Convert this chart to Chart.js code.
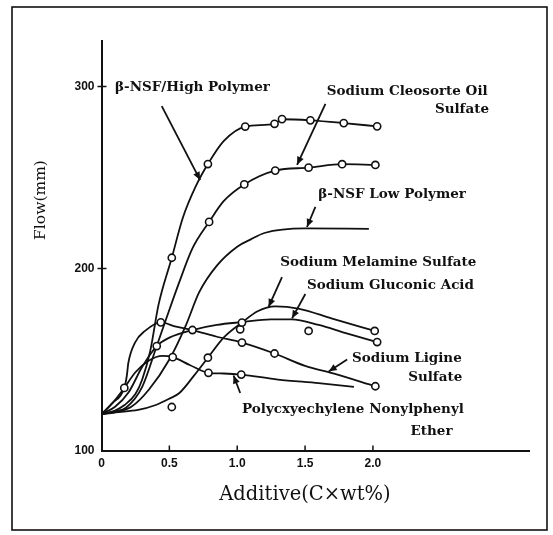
<!DOCTYPE html>
<html><head><meta charset="utf-8">
<script src="https://cdn.jsdelivr.net/npm/chart.js@4.4.1/dist/chart.umd.min.js"></script>
<style>html,body{margin:0;padding:0;background:#fff}#wrap{width:553px;height:535px}</style>
</head><body><div id="wrap"><canvas id="c" width="553" height="535"></canvas></div>
<script>
// ---------- axis ticks ----------
const xTickValues = [0, 0.5, 1, 1.5, 2];
const xTickLabels = ['0', '0.5', '1.0', '1.5', '2.0'];
const yTickValues = [100, 200, 300];
const yTickLabels = ['100', '200', '300'];

// ---------- series names ----------
const seriesNames = ['β-NSF High Polymer', 'Sodium Cleosorte Oil Sulfate', 'β-NSF Low Polymer',
  'Sodium Melamine Sulfate', 'Sodium Gluconic Acid', 'Sodium Ligine Sulfate', 'Polycxyechylene Nonylphenyl Ether'];

// ---------- drawn curves ----------
const highPolymerCurveX = [0, 0.1, 0.17, 0.25, 0.3, 0.36, 0.42, 0.518, 0.6, 0.7, 0.784, 0.9, 1.059, 1.275, 1.33, 1.539, 1.785, 2.031];
const highPolymerCurveY = [120, 122, 125, 131, 139, 155, 180, 205.9, 228, 246, 257.4, 270, 278, 279.5, 282, 281.4, 279.9, 278.1];
const cleosorteCurveX = [0, 0.1, 0.18, 0.3, 0.407, 0.475, 0.573, 0.67, 0.793, 0.9, 1.052, 1.28, 1.526, 1.773, 2.018];
const cleosorteCurveY = [120, 121.5, 123.5, 135, 157.4, 172, 192.5, 211, 225.6, 237, 246.2, 253.8, 255.4, 257.3, 256.9];
const lowPolymerCurveX = [0, 0.1, 0.22, 0.35, 0.5, 0.62, 0.72, 0.85, 1.0, 1.1, 1.2, 1.5, 1.97];
const lowPolymerCurveY = [120, 121, 124, 133.5, 150, 168.5, 187, 201.6, 212, 216, 219.5, 222, 221.8];
const melamineCurveX = [0, 0.1, 0.27, 0.4, 0.5, 0.574, 0.68, 0.784, 0.9, 1.035, 1.15, 1.28, 1.45, 1.7, 2.013];
const melamineCurveY = [120, 121, 122.3, 125, 128.5, 131.6, 141, 151, 162, 170.3, 176.5, 179.2, 178, 172.5, 165.7];
const gluconicCurveX = [0, 0.1, 0.2, 0.3, 0.407, 0.5, 0.67, 0.85, 1.03, 1.25, 1.4, 1.6, 1.8, 2.031];
const gluconicCurveY = [120, 124, 132, 146, 157.4, 162, 166.2, 169, 170.5, 172, 172, 169, 164.5, 159.6];
const ligineCurveX = [0, 0.08, 0.168, 0.186, 0.198, 0.247, 0.321, 0.437, 0.55, 0.67, 0.85, 1.035, 1.275, 1.5, 1.7, 2.018];
const ligineCurveY = [120, 126, 134.4, 140.8, 148.2, 159.3, 165.7, 170.4, 168, 166.2, 162.5, 159.3, 153.3, 146.5, 142.5, 135.3];
const polyCurveX = [0, 0.08, 0.168, 0.25, 0.35, 0.45, 0.525, 0.65, 0.788, 0.9, 1.03, 1.3, 1.6, 1.86];
const polyCurveY = [120, 126, 134.4, 143, 149.5, 152, 151.3, 147, 142.7, 142.3, 141.7, 139, 137, 135];

// ---------- measured points (open circles) ----------
const highPolymerPtsX = [0.518, 0.784, 1.059, 1.275, 1.33, 1.539, 1.785, 2.031];
const highPolymerPtsY = [205.9, 257.4, 278, 279.5, 282.1, 281.4, 279.9, 278.1];
const cleosortePtsX = [0.793, 1.052, 1.28, 1.526, 1.773, 2.018];
const cleosortePtsY = [225.6, 246.2, 253.8, 255.4, 257.3, 256.9];
const melaminePtsX = [0.784, 1.035, 2.013];
const melaminePtsY = [151, 170.3, 165.7];
const gluconicPtsX = [0.407, 0.67, 2.031];
const gluconicPtsY = [157.4, 166.2, 159.6];
const liginePtsX = [0.168, 0.437, 1.035, 1.275, 2.018];
const liginePtsY = [134.4, 170.4, 159.3, 153.3, 135.3];
const polyPtsX = [0.525, 0.788, 1.03];
const polyPtsY = [151.3, 142.7, 141.7];
const strayPtsX = [0.518, 1.022, 1.526];
const strayPtsY = [123.9, 166.6, 165.7];

// ---------- labels & arrows (data coordinates) ----------
const notes = [
  {lines: ['β-NSF/High Polymer'], x: 0.10, y: 299.3, align: 'left', arrow: [0.444, 289.2, 0.727, 248.6]},
  {lines: ['Sodium Cleosorte Oil'], x: 1.66, y: 297.5, align: 'left', arrow: [1.65, 290.5, 1.441, 257]},
  {lines: ['Sulfate'], x: 2.855, y: 287.3, align: 'right'},
  {lines: ['β-NSF Low Polymer'], x: 1.598, y: 240.9, align: 'left', arrow: [1.576, 233.9, 1.514, 222.8]},
  {lines: ['Sodium Melamine Sulfate'], x: 1.317, y: 203.5, align: 'left', arrow: [1.33, 195.2, 1.231, 178.9]},
  {lines: ['Sodium Gluconic Acid'], x: 1.514, y: 190.9, align: 'left', arrow: [1.502, 186.0, 1.404, 172.6]},
  {lines: ['Sodium Ligine'], x: 1.846, y: 150.4, align: 'left', arrow: [1.81, 150.0, 1.674, 143.4]},
  {lines: ['Sulfate'], x: 2.658, y: 139.9, align: 'right'},
  {lines: ['Polycxyechylene Nonylphenyl'], x: 1.035, y: 122.8, align: 'left', arrow: [1.022, 131.6, 0.973, 141.2]},
  {lines: ['Ether'], x: 2.277, y: 110.4, align: 'left'}
];
const xTitle = 'Additive(C×wt%)';
const yTitle = 'Flow(mm)';

const pts = (xs, ys) => xs.map((x, i) => ({x, y: ys[i]}));
const lineDs = (label, xs, ys) => ({label, data: pts(xs, ys), showLine: true, borderColor: '#111', borderWidth: 1.8,
  pointRadius: 0, cubicInterpolationMode: 'monotone', fill: false, order: 2});
const markDs = (label, xs, ys) => ({label, data: pts(xs, ys), showLine: false, pointRadius: 3.6, pointBorderWidth: 1.6,
  pointBorderColor: '#111', pointBackgroundColor: '#fff', order: 1});

const datasets = [
  lineDs(seriesNames[0], highPolymerCurveX, highPolymerCurveY),
  lineDs(seriesNames[1], cleosorteCurveX, cleosorteCurveY),
  lineDs(seriesNames[2], lowPolymerCurveX, lowPolymerCurveY),
  lineDs(seriesNames[3], melamineCurveX, melamineCurveY),
  lineDs(seriesNames[4], gluconicCurveX, gluconicCurveY),
  lineDs(seriesNames[5], ligineCurveX, ligineCurveY),
  lineDs(seriesNames[6], polyCurveX, polyCurveY),
  markDs(seriesNames[0] + ' data', highPolymerPtsX, highPolymerPtsY),
  markDs(seriesNames[1] + ' data', cleosortePtsX, cleosortePtsY),
  markDs(seriesNames[3] + ' data', melaminePtsX, melaminePtsY),
  markDs(seriesNames[4] + ' data', gluconicPtsX, gluconicPtsY),
  markDs(seriesNames[5] + ' data', liginePtsX, liginePtsY),
  markDs(seriesNames[6] + ' data', polyPtsX, polyPtsY),
  markDs('other data', strayPtsX, strayPtsY)
];

const decor = {
  id: 'decor',
  beforeDraw(chart) {
    const c = chart.ctx;
    c.save(); c.fillStyle = '#fff'; c.fillRect(0, 0, chart.width, chart.height); c.restore();
  },
  afterDraw(chart) {
    const c = chart.ctx, xs = chart.scales.x, ys = chart.scales.y, a = chart.chartArea;
    c.save();
    // frame
    c.strokeStyle = '#111'; c.lineWidth = 1.6;
    c.strokeRect(12, 7, 535, 523);
    // inward tick marks
    c.lineWidth = 1.5;
    xTickValues.forEach(v => { if (v === 0) return; const px = xs.getPixelForValue(v);
      c.beginPath(); c.moveTo(px, a.bottom); c.lineTo(px, a.bottom - 5); c.stroke(); });
    yTickValues.forEach(v => { if (v === 100) return; const py = ys.getPixelForValue(v);
      c.beginPath(); c.moveTo(a.left - 4, py); c.lineTo(a.left + 5, py); c.stroke(); });
    // axis titles
    c.fillStyle = '#111';
    c.font = '19.5px "DejaVu Serif"'; c.textAlign = 'center'; c.textBaseline = 'middle';
    c.fillText(xTitle, 305, 495);
    c.save(); c.translate(41, 200); c.rotate(-Math.PI / 2);
    c.font = '15.5px "DejaVu Serif"'; c.fillText(yTitle, 0, 0); c.restore();
    // notes
    c.font = 'bold 13.5px "DejaVu Serif"'; c.textBaseline = 'middle';
    notes.forEach(n => {
      c.textAlign = n.align;
      c.fillText(n.lines[0], xs.getPixelForValue(n.x), ys.getPixelForValue(n.y));
      if (n.arrow) {
        const x1 = xs.getPixelForValue(n.arrow[0]), y1 = ys.getPixelForValue(n.arrow[1]);
        const x2 = xs.getPixelForValue(n.arrow[2]), y2 = ys.getPixelForValue(n.arrow[3]);
        c.lineWidth = 1.8; c.beginPath(); c.moveTo(x1, y1); c.lineTo(x2, y2); c.stroke();
        const ang = Math.atan2(y2 - y1, x2 - x1), L = 8, W = 3.5;
        c.beginPath(); c.moveTo(x2, y2);
        c.lineTo(x2 - L * Math.cos(ang) + W * Math.sin(ang), y2 - L * Math.sin(ang) - W * Math.cos(ang));
        c.lineTo(x2 - L * Math.cos(ang) - W * Math.sin(ang), y2 - L * Math.sin(ang) + W * Math.cos(ang));
        c.closePath(); c.fill();
      }
    });
    c.restore();
  }
};

new Chart(document.getElementById('c'), {
  type: 'scatter',
  data: {datasets},
  plugins: [decor],
  options: {
    responsive: false, animation: false, events: [],
    layout: {padding: {left: 0, top: 41, right: 24, bottom: 0}},
    plugins: {legend: {display: false}, tooltip: {enabled: false}},
    scales: {
      x: {type: 'linear', min: 0, max: 3.15,
        afterFit(s) { s.height = 84.5; },
        afterBuildTicks(s) { s.ticks = xTickValues.map(v => ({value: v})); },
        ticks: {callback: v => xTickLabels[xTickValues.indexOf(v)], color: '#111', padding: 6,
          font: {family: 'Liberation Sans', size: 12, weight: 'bold'}, maxRotation: 0, autoSkip: false},
        grid: {display: false, drawTicks: false}, border: {display: true, color: '#111', width: 2}},
      y: {type: 'linear', min: 100, max: 325,
        afterFit(s) { s.width = 101.5; },
        afterBuildTicks(s) { s.ticks = yTickValues.map(v => ({value: v})); },
        ticks: {callback: v => yTickLabels[yTickValues.indexOf(v)], color: '#111', padding: 7,
          font: {family: 'Liberation Sans', size: 12, weight: 'bold'}, autoSkip: false},
        grid: {display: false, drawTicks: false}, border: {display: true, color: '#111', width: 2}}
    }
  }
});
</script></body></html>
